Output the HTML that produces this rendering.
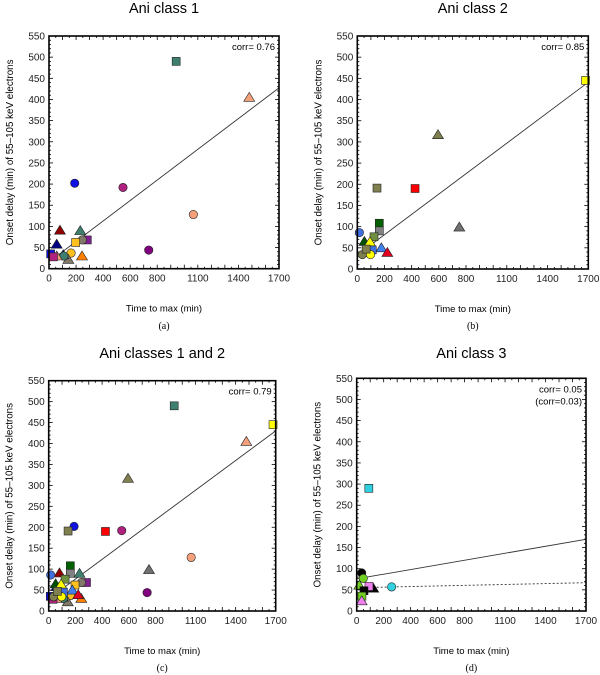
<!DOCTYPE html>
<html><head><meta charset="utf-8"><style>
html,body{margin:0;padding:0;background:#fff;}
svg{display:block;font-family:"Liberation Sans",sans-serif;}
</style></head><body>
<svg id="fig" width="600" height="675" viewBox="0 0 600 675"></svg>
<script>
// ---- data ----
const xTicks = [0,200,400,600,800,1100,1400,1700];
const yTicks = [0,50,100,150,200,250,300,350,400,450,500,550];
// panel a (class 1): x, y, shape, color
const aX = [940,1480,190,547,1067,737,81,231,57,283,246,197,163,244,143,12,105,110,57,33];
const aY = [490,405,202,192,128,44,91,90,58,68,68,62,37,30,22,35,33,30,30,28];
const aS = ['s','t','c','c','c','c','t','t','t','s','c','s','c','t','t','s','t','c','t','s'];
const aC = ['#3f7f6f','#f4a07a','#1010e0','#b0207f','#f4a07a','#800080','#900000','#3f7f6f','#000080','#802090','#807868','#ffc020','#ffc020','#ff8000','#807868','#1010e0','#000080','#3f7f6f','#f4a07a','#b0207f'];
// panel b (class 2)
const bX = [1680,594,751,425,145,162,162,123,15,52,93,177,221,110,37,97,65];
const bY = [445,317,99,190,191,108,90,76,86,65,64,50,39,45,34,34,47];
const bS = ['s','t','t','s','s','s','s','s','c','t','t','t','t','s','c','c','s'];
const bC = ['#ffff00','#7f7f50','#707070','#ff0000','#7f7f50','#006000','#808080','#6f8f40','#4070e0','#005000','#ffff00','#4080f0','#e00020','#4070e0','#7f7f50','#ffff00','#7f7f50'];
// panel d (class 3)
const dX = [90,259,123,91,37,49,19,54,39,37];
const dY = [290,57,54,58,90,77,61,48,35,24];
const dS = ['s','c','t','s','c','c','t','s','s','t'];
const dC = ['#30d0e0','#30d0e0','#000000','#ee80ee','#000000','#70d020','#70d020','#000000','#70d020','#ee80ee'];
// fit lines: intercept, slope
const fitA = [16,0.242], fitB = [33,0.24], fitC = [29,0.236], fitD = [76,0.055], fitD2 = [55,0.007];

const NS = 'http://www.w3.org/2000/svg';
const svg = document.getElementById('fig');
function mk(tag, attrs, parent){
  const e = document.createElementNS(NS, tag);
  for (const k in attrs) e.setAttribute(k, attrs[k]);
  (parent||svg).appendChild(e); return e;
}
function panel(id, L, R, T, B, title, tY, sub, subY, corr, xs, ys, ss, cs, fits){
  const g = mk('g', {});
  
  
  const sx = v => L + (v/1700)*(R-L);
  const sy = v => B - (v/550)*(B-T);
  const cx = (L+R)/2;
  const t = mk('text', {x:cx, y:tY, 'font-size':14.5, 'text-anchor':'middle'}, g);
  t.textContent = title;
  
  
  for (let v=0; v<=1700; v+=50){
    const big = v%100===0 ? 4 : 2;
    mk('line',{x1:sx(v),x2:sx(v),y1:B,y2:B-big,stroke:'#000','stroke-width':0.8},g);
    mk('line',{x1:sx(v),x2:sx(v),y1:T,y2:T+big,stroke:'#000','stroke-width':0.8},g);
  }
  for (let v=0; v<=550; v+=10){
    const big = v%50===0 ? 4 : 2;
    mk('line',{x1:L,x2:L+big,y1:sy(v),y2:sy(v),stroke:'#000','stroke-width':0.8},g);
    mk('line',{x1:R,x2:R-big,y1:sy(v),y2:sy(v),stroke:'#000','stroke-width':0.8},g);
  }
  xTicks.forEach(v=>{
    const e = mk('text',{x:sx(v),y:B+13,'font-size':10,'text-anchor':'middle',fill:'#222'},g);
    e.textContent = v;
    
    
  });
  yTicks.forEach(v=>{
    const e = mk('text',{x:L-4,y:sy(v)+3.5,'font-size':10,'text-anchor':'end',fill:'#222'},g);
    e.textContent = v;
    
    
  });
  const xt = mk('text',{x:cx,y:B+43,'font-size':9.5,'text-anchor':'middle'},g);
  xt.textContent = 'Time to max (min)';
  
  
  const yt = mk('text',{x:0,y:0,'font-size':9.8,'text-anchor':'middle',transform:`translate(${L-36},${(T+B)/2}) rotate(-90)`},g);
  yt.textContent = 'Onset delay (min) of 55\u2013105 keV electrons';
  
  
  const sl = mk('text',{x:cx,y:subY,'font-size':10,'text-anchor':'middle','font-family':'Liberation Serif, serif'},g);
  sl.textContent = sub;
  
  
  corr.forEach((c,i)=>{
    const e = mk('text',{x:R-4,y:T+14+i*12,'font-size':9.5,'text-anchor':'end'},g);
    e.textContent = c;
    
    
  });
  fits.forEach((f,i)=>{
    const x0 = f[2]||0;
    const ln = mk('line',{x1:sx(x0),y1:sy(f[0]+f[1]*x0),x2:sx(1700),y2:sy(f[0]+f[1]*1700),stroke:'#333','stroke-width':0.9},g);
    if (f[3]) ln.setAttribute('stroke-dasharray','2,2');
    
    
  });
  xs.forEach((xv,i)=>{
    const px = sx(xv), py = sy(ys[i]);
    let e;
    if (ss[i]==='c') e = mk('circle',{cx:px,cy:py,r:4.2},g);
    else if (ss[i]==='s') e = mk('rect',{x:px-4,y:py-4,width:8,height:8},g);
    else e = mk('polygon',{points:`${px},${py-5} ${px-5.5},${py+4} ${px+5.5},${py+4}`},g);
    e.setAttribute('fill', cs[i]);
    e.setAttribute('stroke', '#222');
    e.setAttribute('stroke-width', '0.6');
    
    
  });
  const fr = mk('rect',{x:L,y:T,width:R-L,height:B-T,fill:'none',stroke:'#000','stroke-width':1.6},g);
  
  
}
panel('a',49,279,36,268.7,'Ani class 1',13,'(a)',329,['corr= 0.76'],aX,aY,aS,aC,[[fitA[0],fitA[1],10]]);
panel('b',357.3,588.3,36,269,'Ani class 2',13,'(b)',329,['corr= 0.85'],bX,bY,bS,bC,[[fitB[0],fitB[1],0]]);
panel('c',48.7,275.7,380.7,611,'Ani classes 1 and 2',358,'(c)',671,['corr= 0.79'],aX.concat(bX),aY.concat(bY),aS.concat(bS),aC.concat(bC),[[fitC[0],fitC[1],10]]);
panel('d',356.7,586,378.3,611,'Ani class 3',358,'(d)',671,['corr= 0.05','(corr=0.03)'],dX,dY,dS,dC,[[fitD[0],fitD[1],0],[fitD2[0],fitD2[1],0,true]]);
</script>
</body></html>
